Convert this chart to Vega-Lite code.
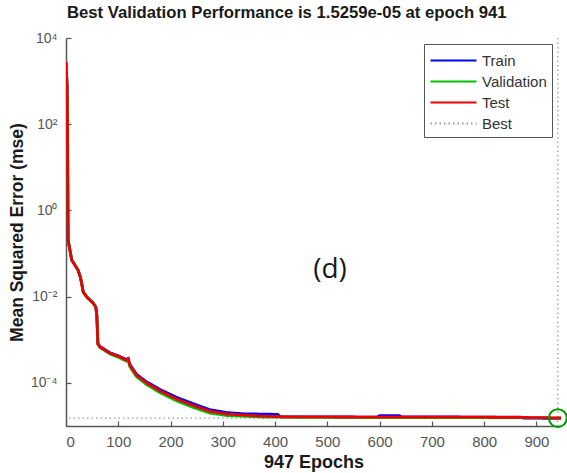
{
  "$schema": "https://vega.github.io/schema/vega-lite/v6.json",
  "width": 495,
  "height": 388,
  "autosize": {"type": "none"},
  "padding": {"left": 66, "top": 38, "right": 6, "bottom": 47},
  "background": "white",
  "title": {
    "text": "Best Validation Performance is 1.5259e-05 at epoch 941",
    "anchor": "start",
    "frame": "group",
    "font": "Liberation Sans",
    "fontSize": 16.7,
    "fontWeight": "bold",
    "color": "#1a1a1a",
    "offset": 9,
    "dx": 1
  },
  "config": {
    "view": {"stroke": null},
    "axis": {
      "grid": false,
      "labelFont": "Liberation Sans",
      "labelColor": "#555555",
      "titleFont": "Liberation Sans",
      "titleFontWeight": "bold",
      "titleColor": "#1a1a1a",
      "domainColor": "#555555",
      "domainWidth": 1.5,
      "tickColor": "#555555",
      "tickWidth": 1.2,
      "tickSize": -5
    }
  },
  "datasets": {
    "curves": [
      {"series": "Train", "epoch": 0, "mse": 2770},
      {"series": "Train", "epoch": 2, "mse": 800},
      {"series": "Train", "epoch": 3, "mse": 30},
      {"series": "Train", "epoch": 4, "mse": 0.206},
      {"series": "Train", "epoch": 11, "mse": 0.0708},
      {"series": "Train", "epoch": 17, "mse": 0.054},
      {"series": "Train", "epoch": 23, "mse": 0.0415},
      {"series": "Train", "epoch": 28, "mse": 0.027},
      {"series": "Train", "epoch": 33, "mse": 0.0128},
      {"series": "Train", "epoch": 40, "mse": 0.0098},
      {"series": "Train", "epoch": 52, "mse": 0.0071},
      {"series": "Train", "epoch": 57, "mse": 0.0057},
      {"series": "Train", "epoch": 59, "mse": 0.0037},
      {"series": "Train", "epoch": 61, "mse": 0.00082},
      {"series": "Train", "epoch": 65, "mse": 0.0007},
      {"series": "Train", "epoch": 84, "mse": 0.0005},
      {"series": "Train", "epoch": 103, "mse": 0.00041},
      {"series": "Train", "epoch": 115, "mse": 0.00035},
      {"series": "Train", "epoch": 119, "mse": 0.00037},
      {"series": "Train", "epoch": 122, "mse": 0.00027},
      {"series": "Train", "epoch": 135, "mse": 0.000158},
      {"series": "Train", "epoch": 154, "mse": 0.000106},
      {"series": "Train", "epoch": 180, "mse": 0.00007},
      {"series": "Train", "epoch": 212, "mse": 0.000046},
      {"series": "Train", "epoch": 243, "mse": 0.000033},
      {"series": "Train", "epoch": 275, "mse": 0.000024},
      {"series": "Train", "epoch": 307, "mse": 0.0000205},
      {"series": "Train", "epoch": 340, "mse": 0.0000192},
      {"series": "Train", "epoch": 405, "mse": 0.0000186},
      {"series": "Train", "epoch": 410, "mse": 0.0000163},
      {"series": "Train", "epoch": 595, "mse": 0.0000161},
      {"series": "Train", "epoch": 600, "mse": 0.0000173},
      {"series": "Train", "epoch": 638, "mse": 0.0000173},
      {"series": "Train", "epoch": 642, "mse": 0.0000162},
      {"series": "Train", "epoch": 870, "mse": 0.0000161},
      {"series": "Train", "epoch": 875, "mse": 0.0000153},
      {"series": "Train", "epoch": 947, "mse": 0.000015},
      {"series": "Validation", "epoch": 0, "mse": 2770},
      {"series": "Validation", "epoch": 2, "mse": 800},
      {"series": "Validation", "epoch": 3, "mse": 30},
      {"series": "Validation", "epoch": 4, "mse": 0.206},
      {"series": "Validation", "epoch": 11, "mse": 0.0708},
      {"series": "Validation", "epoch": 17, "mse": 0.054},
      {"series": "Validation", "epoch": 23, "mse": 0.0415},
      {"series": "Validation", "epoch": 28, "mse": 0.027},
      {"series": "Validation", "epoch": 33, "mse": 0.0128},
      {"series": "Validation", "epoch": 40, "mse": 0.0098},
      {"series": "Validation", "epoch": 52, "mse": 0.0071},
      {"series": "Validation", "epoch": 57, "mse": 0.0057},
      {"series": "Validation", "epoch": 59, "mse": 0.0037},
      {"series": "Validation", "epoch": 61, "mse": 0.00078},
      {"series": "Validation", "epoch": 65, "mse": 0.00066},
      {"series": "Validation", "epoch": 84, "mse": 0.00047},
      {"series": "Validation", "epoch": 103, "mse": 0.00038},
      {"series": "Validation", "epoch": 115, "mse": 0.00032},
      {"series": "Validation", "epoch": 119, "mse": 0.00033},
      {"series": "Validation", "epoch": 122, "mse": 0.00024},
      {"series": "Validation", "epoch": 135, "mse": 0.000138},
      {"series": "Validation", "epoch": 154, "mse": 0.000092},
      {"series": "Validation", "epoch": 180, "mse": 0.000059},
      {"series": "Validation", "epoch": 212, "mse": 0.000038},
      {"series": "Validation", "epoch": 243, "mse": 0.000027},
      {"series": "Validation", "epoch": 275, "mse": 0.00002},
      {"series": "Validation", "epoch": 307, "mse": 0.0000175},
      {"series": "Validation", "epoch": 371, "mse": 0.0000162},
      {"series": "Validation", "epoch": 500, "mse": 0.0000158},
      {"series": "Validation", "epoch": 870, "mse": 0.0000156},
      {"series": "Validation", "epoch": 941, "mse": 0.000015259},
      {"series": "Validation", "epoch": 947, "mse": 0.0000153},
      {"series": "Test", "epoch": 0, "mse": 2770},
      {"series": "Test", "epoch": 2, "mse": 800},
      {"series": "Test", "epoch": 3, "mse": 30},
      {"series": "Test", "epoch": 4, "mse": 0.206},
      {"series": "Test", "epoch": 11, "mse": 0.0708},
      {"series": "Test", "epoch": 17, "mse": 0.054},
      {"series": "Test", "epoch": 23, "mse": 0.0415},
      {"series": "Test", "epoch": 28, "mse": 0.027},
      {"series": "Test", "epoch": 33, "mse": 0.0128},
      {"series": "Test", "epoch": 40, "mse": 0.0098},
      {"series": "Test", "epoch": 52, "mse": 0.0071},
      {"series": "Test", "epoch": 57, "mse": 0.0057},
      {"series": "Test", "epoch": 59, "mse": 0.0037},
      {"series": "Test", "epoch": 61, "mse": 0.0008},
      {"series": "Test", "epoch": 65, "mse": 0.00068},
      {"series": "Test", "epoch": 84, "mse": 0.00049},
      {"series": "Test", "epoch": 103, "mse": 0.0004},
      {"series": "Test", "epoch": 115, "mse": 0.00034},
      {"series": "Test", "epoch": 119, "mse": 0.00036},
      {"series": "Test", "epoch": 122, "mse": 0.00026},
      {"series": "Test", "epoch": 135, "mse": 0.00015},
      {"series": "Test", "epoch": 154, "mse": 0.0001},
      {"series": "Test", "epoch": 180, "mse": 0.000065},
      {"series": "Test", "epoch": 212, "mse": 0.000042},
      {"series": "Test", "epoch": 243, "mse": 0.00003},
      {"series": "Test", "epoch": 275, "mse": 0.000022},
      {"series": "Test", "epoch": 307, "mse": 0.000019},
      {"series": "Test", "epoch": 371, "mse": 0.000017},
      {"series": "Test", "epoch": 420, "mse": 0.0000163},
      {"series": "Test", "epoch": 600, "mse": 0.0000161},
      {"series": "Test", "epoch": 800, "mse": 0.000016},
      {"series": "Test", "epoch": 870, "mse": 0.0000158},
      {"series": "Test", "epoch": 947, "mse": 0.0000154}
    ]
  },
  "layer": [
    {
      "data": {"values": [{"series": "Best", "mse": 0.000015259}]},
      "mark": {"type": "rule", "strokeWidth": 1.3},
      "encoding": {
        "y": {"field": "mse", "type": "quantitative"},
        "color": {"field": "series", "type": "nominal"},
        "strokeDash": {"field": "series", "type": "nominal"}
      }
    },
    {
      "data": {"values": [{"series": "Best", "epoch": 941}]},
      "mark": {"type": "rule", "strokeWidth": 1.3},
      "encoding": {
        "x": {"field": "epoch", "type": "quantitative"},
        "color": {"field": "series", "type": "nominal"},
        "strokeDash": {"field": "series", "type": "nominal"}
      }
    },
    {
      "data": {"name": "curves"},
      "transform": [{"filter": "datum.series === 'Train'"}],
      "mark": {"type": "line", "strokeWidth": 2.8, "clip": true},
      "encoding": {
        "x": {"field": "epoch", "type": "quantitative"},
        "y": {"field": "mse", "type": "quantitative"},
        "color": {"field": "series", "type": "nominal"},
        "strokeDash": {"field": "series", "type": "nominal"}
      }
    },
    {
      "data": {"name": "curves"},
      "transform": [{"filter": "datum.series === 'Validation'"}],
      "mark": {"type": "line", "strokeWidth": 2.8, "clip": true},
      "encoding": {
        "x": {"field": "epoch", "type": "quantitative"},
        "y": {"field": "mse", "type": "quantitative"},
        "color": {"field": "series", "type": "nominal"},
        "strokeDash": {"field": "series", "type": "nominal"}
      }
    },
    {
      "data": {"name": "curves"},
      "transform": [{"filter": "datum.series === 'Test'"}],
      "mark": {"type": "line", "strokeWidth": 2.8, "clip": true},
      "encoding": {
        "x": {
          "field": "epoch",
          "type": "quantitative",
          "scale": {"domain": [0, 947], "nice": false, "zero": false},
          "axis": {
            "values": [0, 100, 200, 300, 400, 500, 600, 700, 800, 900],
            "title": "947 Epochs",
            "titleFontSize": 18,
            "titlePadding": 4,
            "labelFontSize": 15,
            "labelPadding": 13
          }
        },
        "y": {
          "field": "mse",
          "type": "quantitative",
          "scale": {"type": "log", "domain": [0.00001, 10000], "nice": false},
          "axis": {
            "values": [0.0001, 0.01, 1, 100, 10000],
            "title": "Mean Squared Error  (mse)",
            "titleFontSize": 17.5,
            "titlePadding": 4,
            "labelFontSize": 14,
            "labelPadding": 14,
            "labelExpr": "'10' + (round(log(datum.value)/LN10) == 4 ? '⁴' : round(log(datum.value)/LN10) == 2 ? '²' : round(log(datum.value)/LN10) == 0 ? '⁰' : round(log(datum.value)/LN10) == -2 ? '⁻²' : '⁻⁴')"
          }
        },
        "color": {
          "field": "series",
          "type": "nominal",
          "scale": {
            "domain": ["Train", "Validation", "Test", "Best"],
            "range": ["#0000ff", "#00c000", "#ee0000", "#9a9a9a"]
          },
          "legend": {
            "title": null,
            "orient": "none",
            "legendX": 358,
            "legendY": 6,
            "symbolType": "M-1,0H3.6",
            "symbolSize": 400,
            "symbolStrokeWidth": 2.2,
            "labelFont": "Liberation Sans",
            "labelFontSize": 15,
            "labelColor": "#333333",
            "labelOffset": 30,
            "rowPadding": 1,
            "padding": 5,
            "strokeColor": "#555555",
            "fillColor": "white"
          }
        },
        "strokeDash": {
          "field": "series",
          "type": "nominal",
          "scale": {
            "domain": ["Train", "Validation", "Test", "Best"],
            "range": [[1, 0], [1, 0], [1, 0], [1.5, 3]]
          },
          "legend": {
            "title": null,
            "orient": "none",
            "legendX": 358,
            "legendY": 6,
            "symbolType": "M-1,0H3.6",
            "symbolSize": 400,
            "symbolStrokeWidth": 2.2,
            "labelFont": "Liberation Sans",
            "labelFontSize": 15,
            "labelColor": "#333333",
            "labelOffset": 30,
            "rowPadding": 1,
            "padding": 5,
            "strokeColor": "#555555",
            "fillColor": "white"
          }
        }
      }
    },
    {
      "data": {"values": [{"epoch": 941, "mse": 0.000015259}]},
      "mark": {"type": "point", "shape": "circle", "filled": false, "size": 320, "strokeWidth": 2, "color": "#009a00", "opacity": 1, "clip": false},
      "encoding": {
        "x": {"field": "epoch", "type": "quantitative"},
        "y": {"field": "mse", "type": "quantitative"}
      }
    },
    {
      "data": {"values": [{"epoch": 505, "mse": 0.042, "label": "(d)"}]},
      "mark": {"type": "text", "font": "Open Sans", "fontSize": 28, "color": "#1a1a1a", "align": "center", "baseline": "middle"},
      "encoding": {
        "x": {"field": "epoch", "type": "quantitative"},
        "y": {"field": "mse", "type": "quantitative"},
        "text": {"field": "label"}
      }
    }
  ]
}
